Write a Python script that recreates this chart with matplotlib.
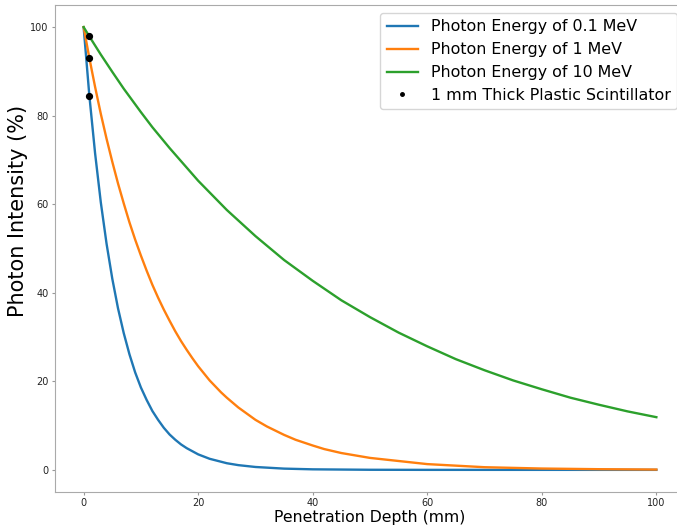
import matplotlib
matplotlib.use("Agg")
import matplotlib.pyplot as plt

# ---- data (photon intensity vs depth) ----
depth_01 = [0, 1, 2, 3, 4, 5, 6, 7, 8, 9, 10, 11, 12, 13, 14, 15, 16, 17, 18, 20, 22, 25, 27, 30,
            35, 40, 50, 60, 70, 80, 90, 100]
inten_01 = [100, 84.5, 71.5, 60.4, 51.1, 43.2, 36.5, 30.9, 26.1, 22.0, 18.6, 15.8, 13.3, 11.3,
            9.5, 8.0, 6.8, 5.75, 4.9, 3.5, 2.5, 1.5, 1.07, 0.65, 0.28, 0.12, 0.02, 0.0, 0.0,
            0.0, 0.0, 0.0]

depth_1 = [0, 1, 2, 3, 4, 5, 6, 7, 8, 9, 10, 11, 12, 13, 14, 15, 16, 17, 18, 19, 20, 22, 24, 25,
           27, 30, 32, 35, 37, 40, 42, 45, 50, 60, 70, 80, 90, 100]
inten_1 = [100, 93.0, 86.5, 80.4, 74.8, 69.6, 64.7, 60.2, 55.9, 52.0, 48.4, 45.0, 41.8, 38.9,
           36.2, 33.7, 31.3, 29.1, 27.1, 25.2, 23.4, 20.2, 17.5, 16.3, 14.1, 11.3, 9.8, 7.9,
           6.8, 5.5, 4.7, 3.8, 2.7, 1.3, 0.6, 0.3, 0.15, 0.07]

depth_10 = [0, 1, 3, 5, 7, 10, 12, 15, 20, 25, 30, 35, 40, 45, 50, 55, 60, 65, 70, 75, 80, 85,
            90, 95, 100]
inten_10 = [100, 97.9, 93.8, 89.9, 86.1, 80.8, 77.4, 72.7, 65.3, 58.7, 52.8, 47.4, 42.7, 38.3,
            34.5, 31.0, 27.9, 25.0, 22.5, 20.2, 18.2, 16.3, 14.7, 13.2, 11.9]

# 1 mm thick scintillator points
scint_depth = [1, 1, 1]
scint_inten = [84.5, 93.0, 97.9]

fig = plt.figure(figsize=(6.77, 5.26), dpi=100)
ax = fig.add_axes([55 / 677, 34 / 526, 630 / 677, 487 / 526])

ax.plot(depth_01, inten_01, color="#1f77b4", lw=1.7, label="Photon Energy of 0.1 MeV")
ax.plot(depth_1, inten_1, color="#ff7f0e", lw=1.7, label="Photon Energy of 1 MeV")
ax.plot(depth_10, inten_10, color="#2ca02c", lw=1.7, label="Photon Energy of 10 MeV")
ax.plot(scint_depth, scint_inten, "o", color="black", ms=4.2, lw=0,
        label="1 mm Thick Plastic Scintillator")

ax.set_xlim(-5, 105)
ax.set_ylim(-5, 105)
ax.set_xticks([0, 20, 40, 60, 80, 100])
ax.set_yticks([0, 20, 40, 60, 80, 100])
ax.tick_params(labelsize=7, length=2.5, pad=2, color="#999999", labelcolor="#222222")
for s in ax.spines.values():
    s.set_color("#aaaaaa")

ax.set_xlabel("Penetration Depth (mm)", fontsize=11.3, labelpad=1)
ax.set_ylabel("Photon Intensity (%)", fontsize=15)
ax.yaxis.set_label_coords(-0.043, 0.577)

ax.legend(loc="upper right", fontsize=11.4, markerscale=0.6)

fig.savefig("out.png", dpi=100)
